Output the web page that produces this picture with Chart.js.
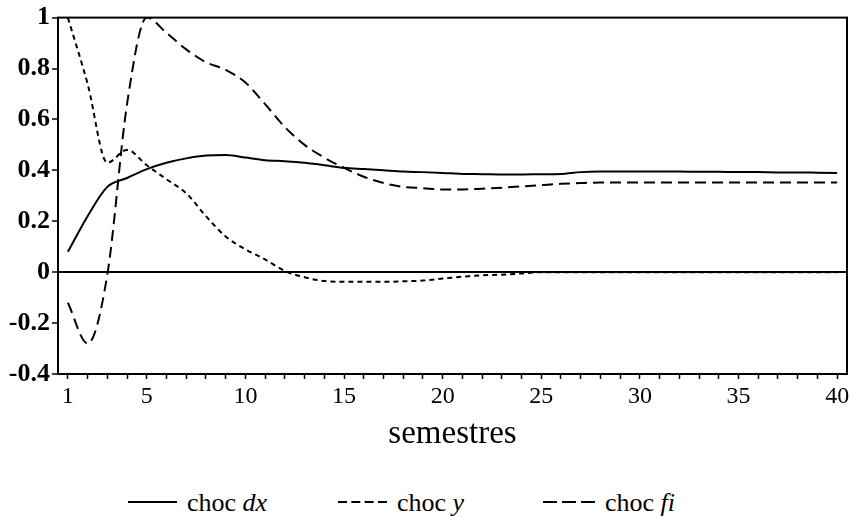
<!DOCTYPE html>
<html>
<head>
<meta charset="utf-8">
<script src="https://cdn.jsdelivr.net/npm/chart.js@4/dist/chart.umd.min.js"></script>
<style>
  html,body{margin:0;padding:0;background:#fff;}
  #wrap{position:relative;width:857px;height:518px;}
  #box{position:absolute;left:0;top:0;width:857px;height:460px;}
  #legend{position:absolute;top:488px;left:0;width:857px;height:30px;font-family:"Liberation Serif","Times New Roman",serif;font-size:26px;color:#000;}
  .item{position:absolute;top:0;display:flex;align-items:center;height:30px;white-space:nowrap;}
  .item svg{margin-right:10px;}
</style>
</head>
<body>
<div id="wrap">
  <div id="box"><canvas id="c"></canvas></div>
  <div id="legend">
    <div class="item" style="left:128px"><svg width="49" height="6"><line x1="0" y1="2" x2="49" y2="2" stroke="#000" stroke-width="2"/></svg><span>choc <i>dx</i></span></div>
    <div class="item" style="left:338px"><svg width="49" height="6"><line x1="0" y1="2" x2="49" y2="2" stroke="#000" stroke-width="2" stroke-dasharray="9,4.33"/></svg><span>choc <i>y</i></span></div>
    <div class="item" style="left:543px"><svg width="52" height="6"><line x1="0" y1="2" x2="52" y2="2" stroke="#000" stroke-width="2" stroke-dasharray="14,5"/></svg><span>choc <i>fi</i></span></div>
  </div>
</div>
<script>
const periods = [1,2,3,4,5,6,7,8,9,10,11,12,13,14,15,16,17,18,19,20,21,22,23,24,25,26,27,28,29,30,31,32,33,34,35,36,37,38,39,40];
const xTickLabels = [1,5,10,15,20,25,30,35,40];
const yTicks = [-0.4,-0.2,0,0.2,0.4,0.6,0.8,1];
const chocDx = [0.08,0.22,0.335,0.37,0.405,0.43,0.447,0.458,0.46,0.45,0.44,0.436,0.43,0.42,0.41,0.405,0.40,0.395,0.393,0.39,0.386,0.385,0.384,0.384,0.385,0.386,0.393,0.395,0.395,0.395,0.395,0.395,0.394,0.394,0.393,0.393,0.392,0.392,0.391,0.39];
const chocY = [1.0,0.74,0.43,0.48,0.42,0.365,0.31,0.22,0.14,0.09,0.05,0.005,-0.02,-0.035,-0.038,-0.038,-0.038,-0.036,-0.033,-0.025,-0.018,-0.012,-0.01,-0.005,0,0,0,0,0,0,0,0,0,0,0,0,0,0,0,0];
const chocFi = [-0.12,-0.28,-0.01,0.66,1.0,0.94,0.875,0.825,0.795,0.745,0.66,0.57,0.50,0.45,0.41,0.375,0.35,0.335,0.33,0.325,0.325,0.328,0.332,0.337,0.342,0.347,0.35,0.352,0.352,0.352,0.352,0.352,0.352,0.352,0.352,0.352,0.352,0.352,0.352,0.352];

const toXY = arr => arr.map((v,i)=>({x:periods[i], y:v}));

const frame = {
  id:'frame',
  afterDatasetsDraw(chart){
    const {ctx, chartArea:a} = chart;
    ctx.save();
    ctx.strokeStyle='#000';
    ctx.lineWidth=2;
    ctx.strokeRect(a.left, a.top, a.right-a.left, a.bottom-a.top);
    ctx.restore();
  }
};

const serif = '"Liberation Serif","Times New Roman",serif';

new Chart(document.getElementById('c'), {
  type:'line',
  data:{
    datasets:[
      {label:'choc dx', data:toXY(chocDx), borderColor:'#000', borderWidth:2, pointRadius:0, cubicInterpolationMode:'monotone', fill:false},
      {label:'choc y', data:toXY(chocY), borderColor:'#000', borderWidth:2, borderDash:[5,4], pointRadius:0, cubicInterpolationMode:'monotone', fill:false},
      {label:'choc fi', data:toXY(chocFi), borderColor:'#000', borderWidth:2, borderDash:[11,6], pointRadius:0, cubicInterpolationMode:'monotone', fill:false}
    ]
  },
  options:{
    responsive:true,
    maintainAspectRatio:false,
    animation:false,
    layout:{padding:{top:12,right:10,left:0,bottom:0}},
    plugins:{legend:{display:false}, tooltip:{enabled:false}},
    scales:{
      x:{
        type:'linear', min:0.5, max:40.5,
        afterBuildTicks(s){ s.ticks = periods.map(v=>({value:v})); },
        afterFit(s){ s.height = 86; },
        ticks:{autoSkip:false, maxRotation:0, padding:3, color:'#000',
          font:{family:serif, size:24},
          callback:(v)=> xTickLabels.includes(v) ? String(v) : ''},
        grid:{drawOnChartArea:false, tickLength:5, tickColor:'#000', tickWidth:1.5},
        border:{display:true, color:'#000', width:2},
        title:{display:true, text:'semestres', color:'#000', font:{family:serif, size:33}, padding:{top:0,bottom:6}}
      },
      y:{
        min:-0.4, max:1,
        afterBuildTicks(s){ s.ticks = yTicks.map(v=>({value:v})); },
        afterFit(s){ s.width = 58; },
        ticks:{padding:2, color:'#000', font:{family:serif, size:26, weight:'bold'},
          callback:(v)=> String(Math.round(v*10)/10)},
        grid:{drawOnChartArea:true, tickLength:6, tickColor:'#000', tickWidth:1.5,
          color:(c)=> (c.tick && Math.abs(c.tick.value)<1e-9) ? '#000' : 'rgba(0,0,0,0)', lineWidth:2},
        border:{display:true, color:'#000', width:2}
      }
    }
  },
  plugins:[frame]
});
</script>
</body>
</html>
